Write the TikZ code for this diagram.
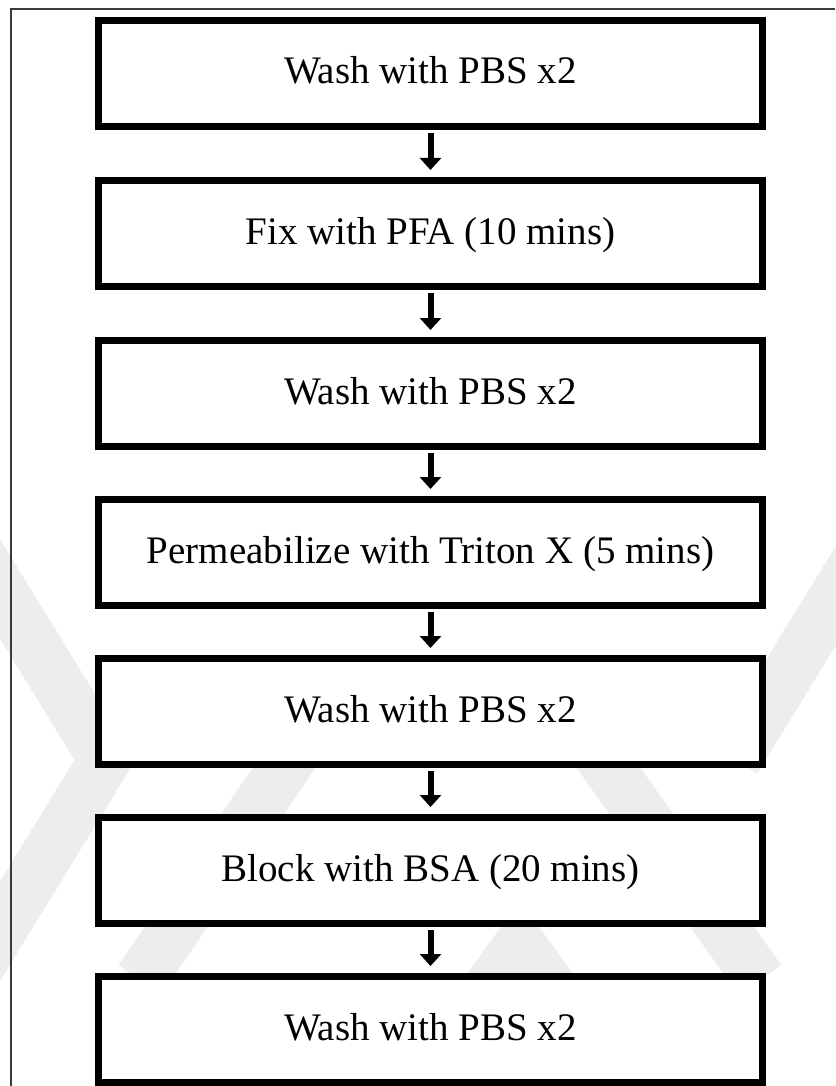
\documentclass[tikz,border=0pt]{standalone}
\usepackage{fontspec}
\setmainfont{Liberation Serif}
\usetikzlibrary{arrows.meta}
\definecolor{wm}{HTML}{EDEDED}
\definecolor{framec}{HTML}{3A3A3A}
\tikzset{
  stepbox/.style={draw=black, fill=white, line width=7pt, minimum width=664pt, minimum height=106pt,
    inner sep=0pt, font=\fontsize{39pt}{45pt}\selectfont, text height=31pt, text depth=10pt},
  flow/.style={line width=6pt, -{Triangle[width=21pt,length=12pt]}, shorten <=3pt, shorten >=7pt},
  wmband/.style={wm, line width=52pt}
}
\begin{document}
\begin{tikzpicture}[x=1pt,y=-1pt]
\useasboundingbox (0,0) rectangle (835,1086);
\fill[white] (0,0) rectangle (835,1086);
% watermark
\draw[wmband] (-30,540) -- (105,760) -- (-30,980);
\draw[wmband] (140,980) -- (330,700);
\draw[wmband] (400,1110) -- (520,945) -- (640,1110);
\draw[wmband] (560,700) -- (760,980);
\draw[wmband] (870,540) -- (735,760);
% frame
\draw[framec, line width=1.5pt] (11,1086) -- (11,9) -- (835,9);
% boxes
\node[stepbox] (b1) at (430.5,73.5) {Wash with PBS x2};
\node[stepbox] (b2) at (430.5,233.5) {Fix with PFA (10 mins)};
\node[stepbox] (b3) at (430.5,393.5) {Wash with PBS x2};
\node[stepbox] (b4) at (430.5,552.5) {Permeabilize with Triton X (5 mins)};
\node[stepbox] (b5) at (430.5,711.5) {Wash with PBS x2};
\node[stepbox] (b6) at (430.5,870.5) {Block with BSA (20 mins)};
\node[stepbox] (b7) at (430.5,1029.5) {Wash with PBS x2};
\foreach \a/\b in {b1/b2,b2/b3,b3/b4,b4/b5,b5/b6,b6/b7}
  \draw[flow] (\a.south) -- (\b.north);
\end{tikzpicture}
\end{document}
